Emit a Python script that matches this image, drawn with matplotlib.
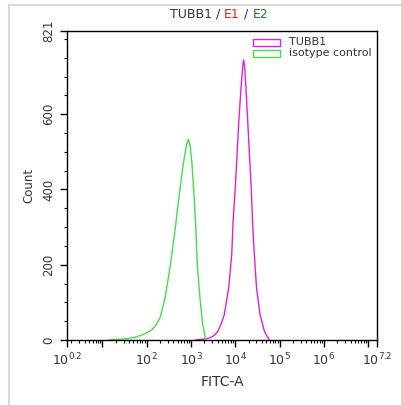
import numpy as np
import matplotlib
matplotlib.use("Agg")
import matplotlib.pyplot as plt
from matplotlib.patches import Rectangle
from matplotlib.lines import Line2D
from matplotlib.ticker import FixedLocator, NullFormatter

plt.rcParams['font.family'] = ['DejaVu Sans']
plt.rcParams['mathtext.fontset'] = 'dejavusans'

# Data (log10 of FITC-A, counts)
iso_log = [1.14, 1.4, 1.6, 1.75, 1.89, 2.0, 2.12, 2.22, 2.31, 2.42, 2.54, 2.64, 2.73, 2.83, 2.9, 2.94, 2.98, 3.02, 3.07, 3.11, 3.14, 3.2, 3.26, 3.33]
iso_cnt = [0, 2, 4, 8, 13, 19, 27, 42, 62, 115, 204, 293, 382, 471, 520, 533, 515, 471, 382, 293, 204, 115, 45, 0]
tubb_log = [3.1, 3.25, 3.41, 3.52, 3.6, 3.68, 3.75, 3.85, 3.92, 3.95, 4.0, 4.04, 4.08, 4.13, 4.17, 4.19, 4.21, 4.24, 4.28, 4.32, 4.36, 4.39, 4.43, 4.48, 4.56, 4.66, 4.77]
tubb_cnt = [0, 2, 5, 12, 22, 42, 67, 138, 227, 315, 404, 493, 582, 671, 730, 744, 728, 671, 582, 493, 404, 315, 227, 138, 67, 22, 0]

xtick_exps = [0.2, 1, 2, 3, 4, 5, 6, 7, 7.2]
xtick_labels = [r'$10^{0.2}$', '', r'$10^{2}$', r'$10^{3}$', r'$10^{4}$', r'$10^{5}$', r'$10^{6}$', '', r'$10^{7.2}$']
ytick_vals = [0, 200, 400, 600, 821]
y_max = 821

c_tubb = '#e020e0'
c_iso = '#40e040'
txt_c = '#333333'

fig = plt.figure(figsize=(4.01, 4.05), dpi=100)
ax = fig.add_axes([67/401, 1-340/405, 310/401, 309/405])

ax.plot(10**np.array(tubb_log), tubb_cnt, color=c_tubb, lw=1.0)
ax.plot(10**np.array(iso_log), iso_cnt, color=c_iso, lw=1.0)

ax.set_xscale('log')
ax.set_xlim(10**0.2, 10**7.2)
ax.set_ylim(0, y_max)

ax.xaxis.set_major_locator(FixedLocator([10**e for e in xtick_exps]))
ax.set_xticklabels(xtick_labels, fontsize=9, color=txt_c)
minors = []
for d in range(0, 8):
    for m in range(2, 10):
        v = m * 10**d
        if 10**0.2 < v < 10**7.2:
            minors.append(v)
ax.xaxis.set_minor_locator(FixedLocator(minors))
ax.xaxis.set_minor_formatter(NullFormatter())

ax.set_yticks(ytick_vals)
ax.set_yticklabels([str(v) for v in ytick_vals], rotation=90, va='center', fontsize=8.5, color=txt_c)
ax.yaxis.set_minor_locator(FixedLocator(list(range(50, 821, 50))))

ax.tick_params(which='major', direction='out', length=5, width=1, colors='black', labelcolor=txt_c)
ax.tick_params(which='minor', direction='out', length=2.5, width=0.8, colors='black')
for s in ax.spines.values():
    s.set_linewidth(1.0)
    s.set_color('black')

ax.set_xlabel('FITC-A', fontsize=10, color=txt_c, labelpad=5)
ax.set_ylabel('Count', fontsize=8.5, color=txt_c, labelpad=5)

# Legend drawn in figure pixels
legend_items = [('TUBB1', c_tubb), ('isotype control', c_iso)]
for i, (lab, col) in enumerate(legend_items):
    yc = 42 + 11 * i
    fig.add_artist(Rectangle((253/401, 1-(yc+3.5)/405), 27/401, 7/405,
                             facecolor='white', edgecolor=col, lw=1.0, transform=fig.transFigure))
    fig.text(289/401, 1-yc/405, lab, fontsize=8, color=txt_c, va='center', ha='left')

# Title with coloured parts
ty = 1 - 14/405
parts = [('TUBB1', txt_c), (' / ', txt_c), ('E1', '#e02020'), (' / ', txt_c), ('E2', '#208020')]
renderer = fig.canvas.get_renderer()
texts = []
total = 0
for s, c in parts:
    t = fig.text(0, ty, s, color=c, fontsize=9, va='center', ha='left')
    w = t.get_window_extent(renderer).width
    texts.append((t, w))
    total += w
x0 = (219 - total/2)
for t, w in texts:
    t.set_x(x0/401)
    x0 += w

# screenshot border lines
fig.add_artist(Line2D([9/401, 9/401], [0, 1-5/405], color='#d8d8d8', lw=1.5))
fig.add_artist(Line2D([9/401, 1], [1-5/405, 1-5/405], color='#d8d8d8', lw=1.5))

fig.savefig('out.png', dpi=100)
